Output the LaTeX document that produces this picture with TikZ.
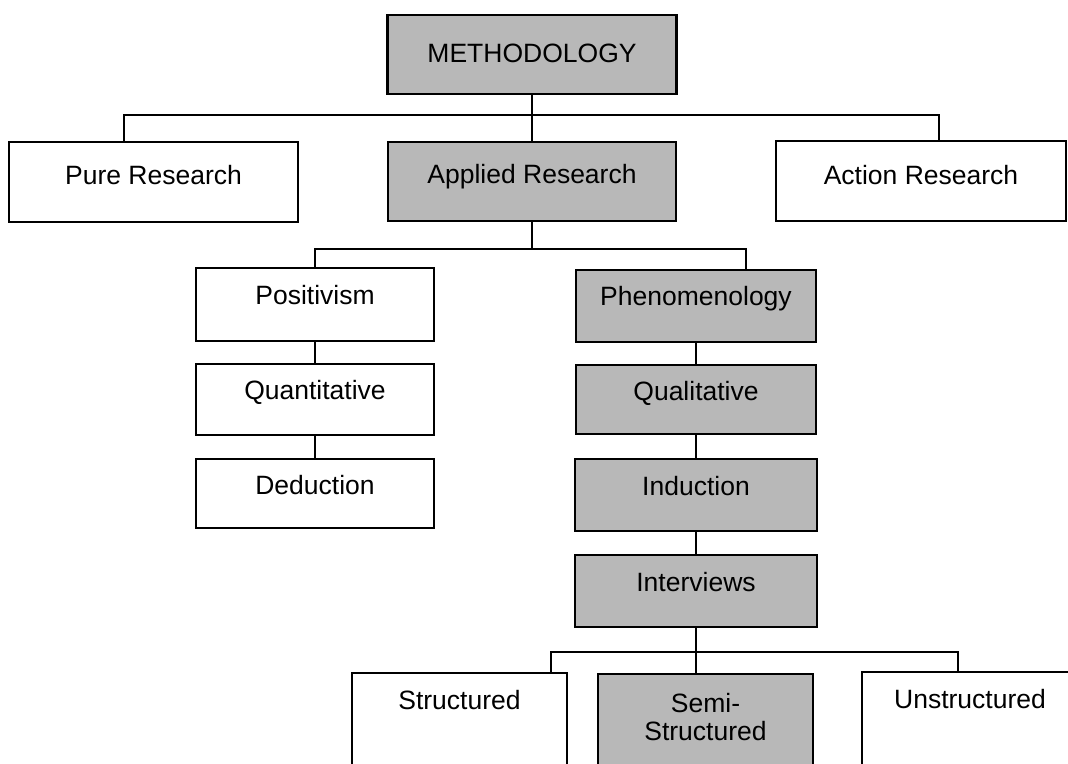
\documentclass[tikz,border=0pt]{standalone}
\usepackage{fontspec}
\setmainfont{Liberation Sans}
\definecolor{shadefill}{gray}{0.72}
\tikzset{
  box/.style={draw=black, line width=2.4pt, inner sep=0pt, fill=white,
    font=\fontsize{26.5}{28}\selectfont, anchor=base},
  shaded/.style={box, fill=shadefill},
  conn/.style={draw=black, line width=2.2pt, line cap=rect}
}
\begin{document}
\begin{tikzpicture}[x=1pt, y=-1pt]
\useasboundingbox[fill=white] (0,0) rectangle (1068,763);
% level 0
\node[shaded, minimum width=289pt, text height=47pt, text depth=32pt] (meth) at (532,62) {METHODOLOGY};
% level 1
\node[box, minimum width=289pt, text height=42pt, text depth=38pt] (pure) at (153.5,184) {Pure Research};
\node[shaded, minimum width=288pt, text height=41pt, text depth=38pt] (app) at (532,183) {Applied Research};
\node[box, minimum width=290pt, text height=43pt, text depth=37pt] (act) at (921,184) {Action Research};
% left column
\node[box, minimum width=238pt, text height=36pt, text depth=37pt] (pos) at (315,304) {Positivism};
\node[box, minimum width=238pt, text height=35pt, text depth=36pt] (quant) at (315,399) {Quantitative};
\node[box, minimum width=238pt, text height=35pt, text depth=34pt] (ded) at (315,494) {Deduction};
% right column
\node[shaded, minimum width=240pt, text height=35pt, text depth=37pt] (phen) at (696,305) {Phenomenology};
\node[shaded, minimum width=240pt, text height=35pt, text depth=34pt] (qual) at (696,400) {Qualitative};
\node[shaded, minimum width=242pt, text height=36pt, text depth=36pt] (ind) at (696,495) {Induction};
\node[shaded, minimum width=242pt, text height=36pt, text depth=36pt] (int) at (696,591) {Interviews};
% bottom level
\node[box, minimum width=215pt, text height=36pt, text depth=91pt] (str) at (459.5,709) {Structured};
\node[shaded, minimum width=215pt, text height=38pt, text depth=88pt] (semi) at (705.5,712)
  {\begin{tabular}[t]{@{}c@{}}Semi-\\Structured\end{tabular}};
\node[box, minimum width=216pt, text height=36pt, text depth=92pt] (uns) at (970,708) {Unstructured};
% bus coordinates
\coordinate (b1L) at (124,115);
\coordinate (b1R) at (939,115);
\coordinate (b2L) at (315,249);
\coordinate (b2R) at (746,249);
\coordinate (b3L) at (551,652);
\coordinate (b3R) at (958,652);
% connectors
\draw[conn] (meth) -- (app);
\draw[conn] (b1L |- pure.north) -- (b1L) -- (b1R) -- (b1R |- act.north);
\draw[conn] (app.south) -- (app.south |- b2L);
\draw[conn] (b2L |- pos.north) -- (b2L) -- (b2R) -- (b2R |- phen.north);
\draw[conn] (pos) -- (quant);
\draw[conn] (quant) -- (ded);
\draw[conn] (phen) -- (qual);
\draw[conn] (qual) -- (ind);
\draw[conn] (ind) -- (int);
\draw[conn] (int.south) -- (int.south |- semi.north);
\draw[conn] (b3L |- str.north) -- (b3L) -- (b3R) -- (b3R |- uns.north);
\end{tikzpicture}
\end{document}
